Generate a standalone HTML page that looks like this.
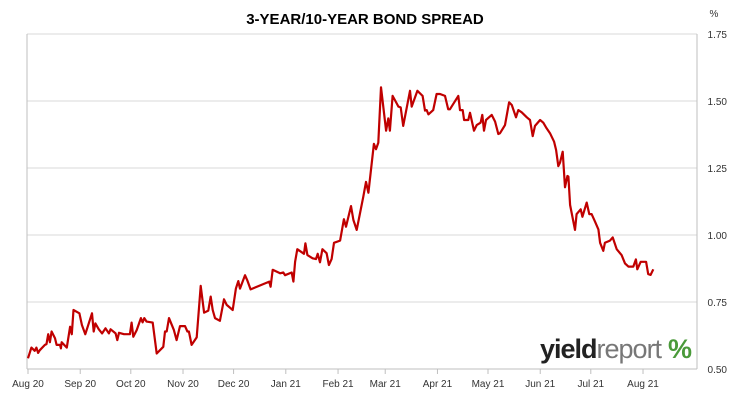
<!DOCTYPE html>
<html><head><meta charset="utf-8"><style>
body{margin:0;background:#fff;font-family:"Liberation Sans",sans-serif;}
#wrap{position:relative;width:731px;height:400px;overflow:hidden;}
</style></head><body>
<div id="wrap">
<svg id="chart" width="731" height="400">
<text x="365" y="24" text-anchor="middle" font-family="Liberation Sans" font-weight="bold" font-size="15" fill="#000">3-YEAR/10-YEAR BOND SPREAD</text>
<text x="714" y="17" text-anchor="middle" font-size="10" fill="#333">%</text>
<g id="grid"></g><g id="axes"></g><g id="series"></g>
<g>
<text x="540" y="358" font-size="27" font-weight="bold" fill="#222" letter-spacing="-1">yield<tspan fill="#777" font-weight="normal">report</tspan></text>
<text x="668" y="358" font-size="27" font-weight="bold" fill="#4a9a3a">%</text>
</g>
</svg>
</div>
<script>
const days=[0,2,4,5,6,7,10,11,12,13,14,16,17,19,19.5,20,23,25,26,27,30.5,32,34,38,39,40,42,44,46,48,49,52,53,54,57,60.5,61.5,62.5,64.5,67,68,69,70.4,74,76.4,80.3,81.3,82.3,83.7,86.6,88.2,90.2,93.2,94.6,95.5,97.1,100.1,102.5,104.5,107,108.4,109.6,111,113.9,116.3,117.9,121.5,123.4,124.8,125.8,128.8,130.2,132.1,143.2,144,145.2,149.6,151.5,152.5,156.5,157.5,158.5,159.8,163.8,164.6,165.8,168.9,170.9,171.9,173.3,174.7,177.2,178.6,180.2,181.6,185.2,187.5,188.7,191.7,193.1,195.1,199,200.6,202,205.3,206.5,207.9,209.5,212.5,213.8,214.8,216.4,218.8,219.8,221.2,222.7,226.7,227.7,231.1,234.2,235.6,236.6,237.6,240.5,242.5,244.5,247.5,249.4,250.4,255.4,256.4,258,258.8,261.3,262.3,264.7,266.3,268.6,269.6,270.6,271.8,275.2,277.2,279.1,280.1,283.1,285.5,287.1,289.6,291,293,296,297.9,299.5,300.9,303.9,305.8,307.8,309.8,312.2,313.4,314.7,315.7,317.3,318.7,320.1,320.7,321.7,324.6,325.6,328,329,331.6,333.1,334.5,336.5,338.5,339.5,341.4,342.4,345.4,347,349.4,352.3,354.3,356.3,359.2,360.8,361.6,363.6,366.8,368.1,369.5,371.1];
const spread=[0.54,0.58,0.568,0.58,0.56,0.57,0.59,0.593,0.63,0.60,0.64,0.615,0.59,0.59,0.577,0.60,0.58,0.658,0.63,0.72,0.708,0.664,0.63,0.708,0.64,0.67,0.648,0.633,0.652,0.633,0.648,0.633,0.608,0.635,0.63,0.63,0.673,0.62,0.645,0.69,0.674,0.69,0.677,0.673,0.558,0.583,0.64,0.64,0.69,0.645,0.608,0.66,0.66,0.64,0.64,0.59,0.618,0.81,0.71,0.718,0.77,0.72,0.69,0.68,0.76,0.739,0.72,0.80,0.828,0.80,0.85,0.83,0.797,0.826,0.807,0.87,0.857,0.86,0.85,0.86,0.826,0.90,0.947,0.93,0.969,0.925,0.913,0.91,0.93,0.898,0.947,0.932,0.888,0.91,0.971,0.979,1.059,1.031,1.108,1.056,1.019,1.143,1.198,1.158,1.34,1.32,1.344,1.551,1.389,1.435,1.389,1.519,1.491,1.479,1.476,1.407,1.538,1.479,1.538,1.519,1.464,1.466,1.45,1.466,1.526,1.526,1.519,1.469,1.469,1.519,1.466,1.466,1.429,1.429,1.456,1.389,1.41,1.419,1.448,1.389,1.429,1.448,1.423,1.377,1.38,1.41,1.495,1.485,1.439,1.466,1.458,1.439,1.429,1.369,1.407,1.429,1.419,1.398,1.38,1.348,1.317,1.257,1.27,1.311,1.178,1.22,1.218,1.112,1.019,1.078,1.096,1.068,1.121,1.078,1.078,1.05,1.021,0.971,0.941,0.971,0.979,0.991,0.947,0.925,0.894,0.882,0.882,0.909,0.872,0.90,0.90,0.854,0.851,0.872];
const yTicks=[0.5,0.75,1.0,1.25,1.5,1.75];
const xTickDays=[0,31,61,92,122,153,184,212,243,273,304,334,365];
const xTickLabels=["Aug 20","Sep 20","Oct 20","Nov 20","Dec 20","Jan 21","Feb 21","Mar 21","Apr 21","May 21","Jun 21","Jul 21","Aug 21"];
const NS="http://www.w3.org/2000/svg";
const L=27,R=697,T=34,B=369;
function x(d){return 28+d*1.685;}
function y(v){return B-(v-0.5)/1.25*(B-T);}
const grid=document.getElementById('grid'),axes=document.getElementById('axes'),series=document.getElementById('series');
function mk(tag,attrs,parent){const e=document.createElementNS(NS,tag);for(const k in attrs)e.setAttribute(k,attrs[k]);parent.appendChild(e);return e;}
yTicks.forEach(v=>{
 const g=mk('line',{x1:L,x2:R,y1:y(v),y2:y(v),stroke:'#d9d9d9','stroke-width':1},grid);
 
 
 const t=mk('text',{x:727,y:y(v)+4,'text-anchor':'end','font-size':10,fill:'#333'},axes);
 t.textContent=v.toFixed(2);
 
 
});
const la=mk('line',{x1:L,x2:L,y1:T,y2:B,stroke:'#bfbfbf'},axes);


const ra=mk('line',{x1:R,x2:R,y1:T,y2:B,stroke:'#bfbfbf'},axes);


const ba=mk('line',{x1:L,x2:R,y1:B,y2:B,stroke:'#bfbfbf'},axes);


xTickDays.forEach((d,i)=>{
 const tk=mk('line',{x1:x(d),x2:x(d),y1:B,y2:B+5,stroke:'#bfbfbf'},axes);
 
 
 const t=mk('text',{x:x(d),y:387,'text-anchor':'middle','font-size':10,fill:'#333'},axes);
 t.textContent=xTickLabels[i];
 
 
});
const pts=days.map((d,i)=>x(d).toFixed(1)+','+y(spread[i]).toFixed(1)).join(' ');
const line=mk('polyline',{points:pts,fill:'none',stroke:'#c00000','stroke-width':2.2,'stroke-linejoin':'round'},series);


</script>
</body></html>
